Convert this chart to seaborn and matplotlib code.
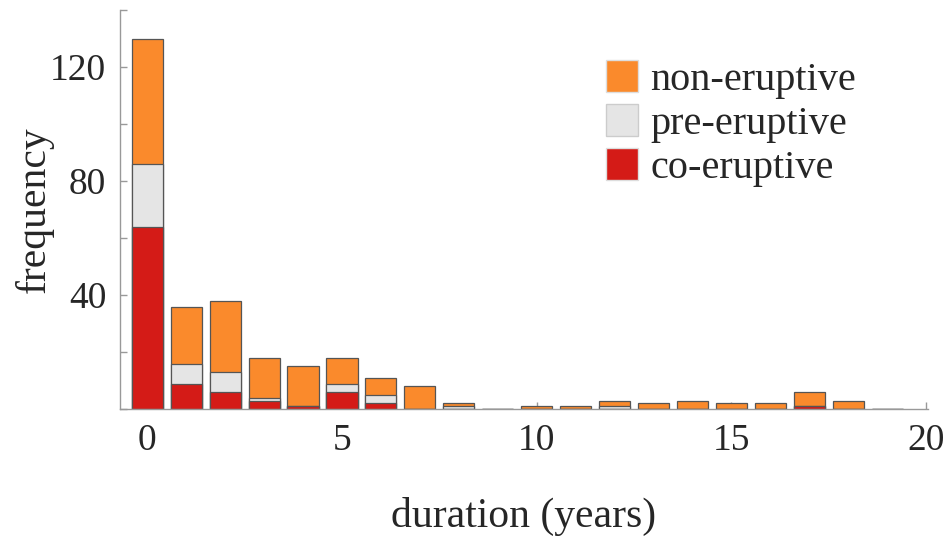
import pandas as pd
import matplotlib.pyplot as plt
import matplotlib.patches as mpatches
import seaborn as sns

# duration bins (years) and counts per class
duration = list(range(20))
co_eruptive = [64, 9, 6, 3, 1, 6, 2, 0, 0, 0, 0, 0, 0, 0, 0, 0, 0, 1, 0, 0]
pre_eruptive = [22, 7, 7, 1, 0, 3, 3, 0, 1, 0, 0, 0, 1, 0, 0, 0, 0, 0, 0, 0]
non_eruptive = [44, 20, 25, 14, 14, 9, 6, 8, 1, 0, 1, 1, 2, 2, 3, 2, 2, 5, 3, 0]

col_non = "#FA8A2C"
col_pre = "#E5E5E5"
col_co = "#D41B17"
edge = "#555555"

df = pd.DataFrame({"duration": duration, "co": co_eruptive,
                   "pre": pre_eruptive, "non": non_eruptive})
df["co_pre"] = df["co"] + df["pre"]
df["total"] = df["co_pre"] + df["non"]

sns.set_style("white")
plt.rcParams["font.family"] = ["Liberation Serif", "DejaVu Serif"]

fig = plt.figure(figsize=(9.45, 5.37), dpi=100)
ax = fig.add_axes([0.127, 0.238, 0.855, 0.743])
ax.set_axisbelow(True)

# stacked bars drawn as layered cumulative heights
for col, c in [("total", col_non), ("co_pre", col_pre), ("co", col_co)]:
    sns.barplot(data=df, x="duration", y=col, native_scale=True, width=0.8,
                color=c, saturation=1, errorbar=None, edgecolor=edge,
                linewidth=0.9, ax=ax)

ax.set_xlim(-0.7, 20.05)
ax.set_ylim(0, 140)
ax.set_xticks([0, 5, 10, 15, 20])
ax.set_xticklabels(["0", "5", "10", "15", "20"])
ax.set_yticks([40, 80, 120])
ax.set_yticks([0, 20, 60, 100, 140], minor=True)

for s in ["top", "right"]:
    ax.spines[s].set_visible(False)
for s in ["left", "bottom"]:
    ax.spines[s].set_color("#999999")
    ax.spines[s].set_linewidth(1.0)

ax.tick_params(axis="both", which="both", direction="in", length=5,
               width=1.0, color="#999999", labelsize=27, pad=10)
ax.tick_params(axis="y", which="both", left=True)
ax.tick_params(axis="x", which="both", bottom=True)

ax.set_xlabel("duration (years)", fontsize=30, labelpad=28)
ax.set_ylabel("frequency", fontsize=30, labelpad=-3)

handles = [mpatches.Patch(facecolor=col_non, edgecolor="#dddddd", label="non-eruptive"),
           mpatches.Patch(facecolor=col_pre, edgecolor="#cccccc", label="pre-eruptive"),
           mpatches.Patch(facecolor=col_co, edgecolor="#dddddd", label="co-eruptive")]
ax.legend(handles=handles, loc="upper left", bbox_to_anchor=(0.620, 0.926),
          bbox_transform=fig.transFigure, frameon=False, fontsize=29,
          handlelength=0.8, handleheight=0.85, handletextpad=0.3,
          labelspacing=0.12, borderpad=0)

fig.savefig("out.png", dpi=100)
